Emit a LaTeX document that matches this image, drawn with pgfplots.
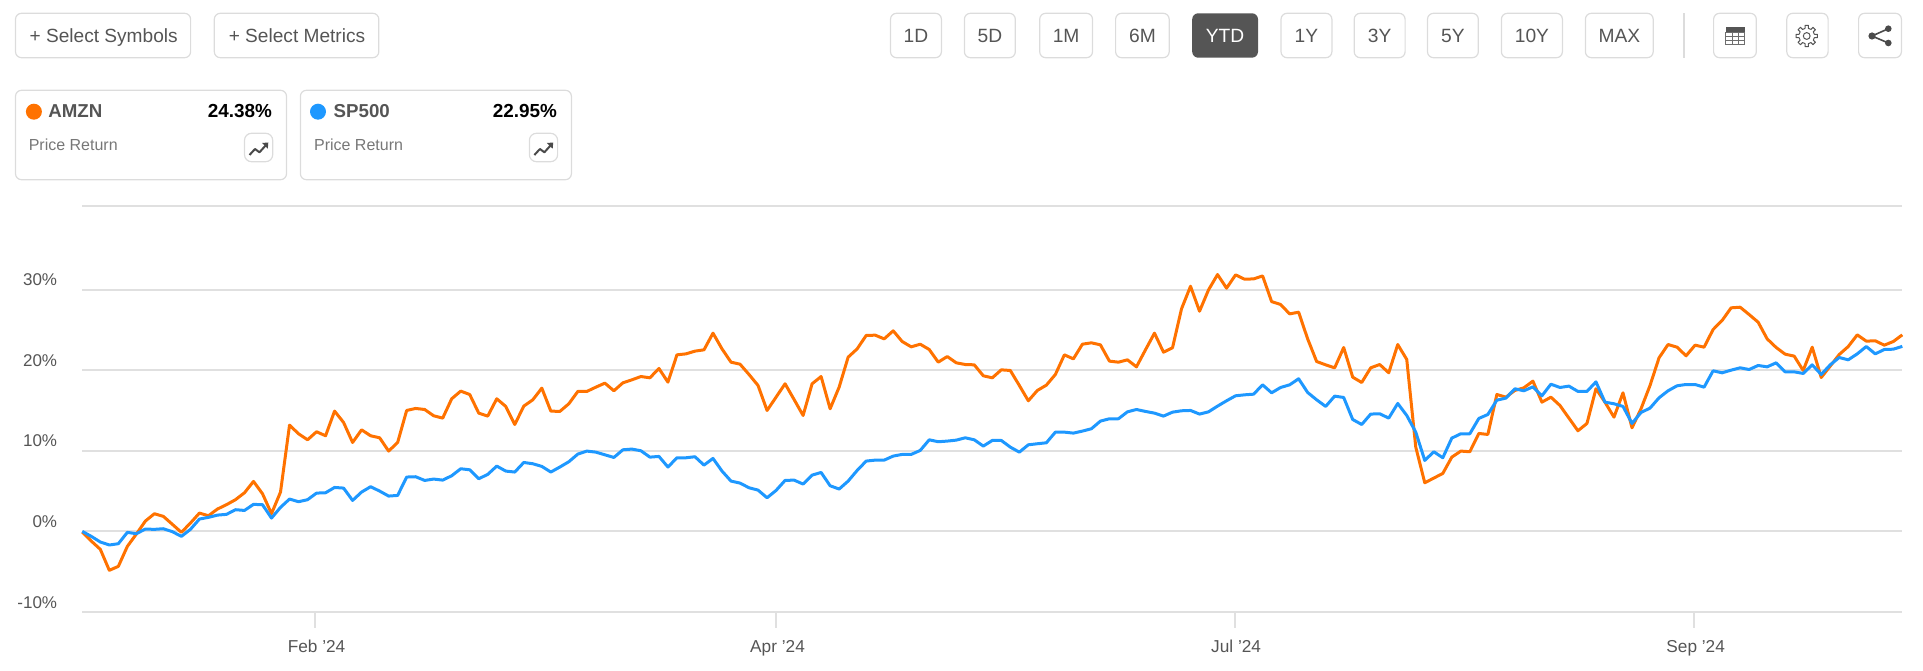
\documentclass[border=0pt]{standalone}
\usepackage{pgfplots}
\pgfplotsset{compat=1.18}
\usepackage{fontspec}
\setmainfont{Liberation Sans}
\definecolor{amzn}{HTML}{FF7200}
\definecolor{spx}{HTML}{1E98FF}
\definecolor{gridc}{HTML}{E0E0E0}
\definecolor{boxc}{HTML}{DCDCDC}
\definecolor{txt}{HTML}{555555}
\definecolor{dark}{HTML}{4A4A4A}
\newcommand{\fs}[1]{\fontsize{#1}{#1}\selectfont}
\tikzset{btn/.style={draw=boxc,line width=1.2pt,rounded corners=6pt}}
% button: x0, x1, label
\newcommand{\btn}[3]{
  \draw[btn] (#1,13.3) rectangle (#2,57.7);
  \node[text=txt,inner sep=0,anchor=base] at ({(#1+#2)/2},42.5) {\fs{19.2}#3};
}
% trend icon box
\newcommand{\trend}[1]{
  \draw[btn,rounded corners=7pt] (#1,133.3) rectangle ({#1+28.2},161.7);
  \draw[dark,line width=2pt,line join=round] ({#1+5},155) -- ({#1+10.5},149) -- ({#1+15},152.3) -- ({#1+22},144.5);
  \fill[dark] ({#1+23.8},142.5) -- ({#1+17.5},143) -- ({#1+23.3},148.7) -- cycle;
}
\begin{document}
\begin{tikzpicture}
\useasboundingbox (0,0) rectangle (1923pt,670pt);
\begin{axis}[
  at={(82.3pt,58pt)}, anchor=south west,
  scale only axis,
  width=1820pt, height=406.3pt,
  xmin=0, xmax=202, ymin=-10, ymax=40.4,
  clip=false,
  axis line style={draw=none},
  ymajorgrids,
  grid style={gridc,line width=2pt},
  ytick={-10,0,10,20,30,40.4},
  yticklabels={-10\%,0\%,10\%,20\%,30\%,},
  xtick={25.83,77.0,127.9,178.9},
  xticklabels={Feb '24,Apr '24,Jul '24,Sep '24},
  tick align=inside,
  major tick length=15.5pt,
  xtick pos=lower, ytick pos=left,
  y tick style={draw=none},
  x tick style={gridc,line width=2pt,yshift=-15.5pt},
  xticklabel style={anchor=base,inner sep=0,text=txt,font=\fs{17.25},yshift=-40pt,xshift=1.5pt},
  yticklabel style={anchor=base east,inner sep=0,text=txt,font=\fs{17},yshift=4pt,xshift=-25pt},
]
\addplot[amzn,line width=3pt,line join=round] coordinates {
(0,-0.08)(1,-1.20)(2,-2.23)(3,-4.83)(4,-4.34)(5,-1.86)(6,-0.33)(7,1.28)(8,2.19)(9,1.86)
(10,0.87)(11,-0.12)(12,1.03)(13,2.27)(14,1.94)(15,2.77)(16,3.31)(17,3.93)(18,4.79)(19,6.20)
(20,4.67)(21,2.19)(22,4.88)(23,13.18)(24,12.11)(25,11.36)(26,12.36)(27,11.86)(28,14.92)(29,13.51)
(30,11.03)(31,12.60)(32,11.86)(33,11.61)(34,9.96)(35,11.03)(36,15.00)(37,15.25)(38,15.12)(39,14.34)
(40,14.05)(41,16.45)(42,17.40)(43,16.98)(44,14.67)(45,14.30)(46,16.45)(47,15.50)(48,13.26)(49,15.54)
(50,16.32)(51,17.77)(52,14.92)(53,14.88)(54,15.83)(55,17.36)(56,17.36)(57,17.89)(58,18.39)(59,17.44)
(60,18.43)(61,18.80)(62,19.21)(63,19.05)(64,20.21)(65,18.51)(66,21.90)(67,22.02)(68,22.36)(69,22.52)
(70,24.59)(71,22.64)(72,20.99)(73,20.74)(74,19.46)(75,18.10)(76,15.00)(77,16.65)(78,18.31)(79,16.36)
(80,14.38)(81,18.31)(82,19.21)(83,15.21)(84,17.89)(85,21.61)(86,22.64)(87,24.30)(88,24.34)(89,23.88)
(90,24.88)(91,23.55)(92,22.89)(93,23.22)(94,22.56)(95,20.99)(96,21.69)(97,20.91)(98,20.70)(99,20.66)
(100,19.30)(101,19.05)(102,20.04)(103,19.96)(104,18.10)(105,16.20)(106,17.48)(107,18.14)(108,19.46)(109,21.90)
(110,21.40)(111,23.22)(112,23.39)(113,23.14)(114,21.12)(115,20.99)(116,21.28)(117,20.41)(118,22.52)(119,24.59)
(120,22.23)(121,22.77)(122,27.60)(123,30.41)(124,27.31)(125,29.96)(126,31.86)(127,30.17)(128,31.82)(129,31.28)
(130,31.32)(131,31.69)(132,28.51)(133,28.14)(134,26.98)(135,27.19)(136,23.88)(137,21.07)(138,20.66)(139,20.29)
(140,22.81)(141,19.13)(142,18.47)(143,20.29)(144,20.70)(145,19.67)(146,23.18)(147,21.32)(148,10.45)(149,6.03)
(150,6.61)(151,7.19)(152,9.21)(153,9.96)(154,9.88)(155,12.15)(156,12.02)(157,16.98)(158,16.65)(159,17.48)
(160,17.81)(161,18.64)(162,16.03)(163,16.65)(164,15.62)(165,14.05)(166,12.48)(167,13.39)(168,17.69)(169,16.03)
(170,14.17)(171,17.19)(172,12.85)(173,15.21)(174,18.10)(175,21.53)(176,23.18)(177,22.85)(178,21.78)(179,23.10)
(180,22.85)(181,25.04)(182,26.16)(183,27.73)(184,27.81)(185,26.90)(186,25.95)(187,23.88)(188,22.81)(189,21.98)
(190,21.74)(191,19.96)(192,22.85)(193,19.09)(194,20.50)(195,21.94)(196,22.93)(197,24.38)(198,23.60)(199,23.64)
(200,23.10)(201,23.55)(202,24.38)
};
\addplot[spx,line width=3pt,line join=round] coordinates {
(0,0.00)(1,-0.62)(2,-1.32)(3,-1.69)(4,-1.53)(5,-0.12)(6,-0.29)(7,0.29)(8,0.25)(9,0.33)
(10,-0.04)(11,-0.62)(12,0.25)(13,1.53)(14,1.74)(15,2.02)(16,2.11)(17,2.69)(18,2.60)(19,3.35)
(20,3.31)(21,1.65)(22,2.98)(23,4.01)(24,3.68)(25,3.93)(26,4.75)(27,4.79)(28,5.45)(29,5.37)
(30,3.84)(31,4.88)(32,5.54)(33,5.00)(34,4.38)(35,4.46)(36,6.74)(37,6.78)(38,6.32)(39,6.49)
(40,6.36)(41,6.90)(42,7.77)(43,7.64)(44,6.53)(45,7.07)(46,8.10)(47,7.48)(48,7.36)(49,8.55)
(50,8.39)(51,8.06)(52,7.36)(53,7.98)(54,8.64)(55,9.59)(56,9.96)(57,9.83)(58,9.50)(59,9.17)
(60,10.12)(61,10.21)(62,10.00)(63,9.21)(64,9.30)(65,7.98)(66,9.13)(67,9.13)(68,9.26)(69,8.22)
(70,9.05)(71,7.48)(72,6.24)(73,5.99)(74,5.41)(75,5.12)(76,4.17)(77,5.08)(78,6.32)(79,6.36)
(80,5.87)(81,6.98)(82,7.31)(83,5.66)(84,5.25)(85,6.24)(86,7.56)(87,8.72)(88,8.84)(89,8.84)
(90,9.34)(91,9.55)(92,9.55)(93,10.04)(94,11.36)(95,11.12)(96,11.20)(97,11.32)(98,11.61)(99,11.36)
(100,10.58)(101,11.28)(102,11.28)(103,10.45)(104,9.83)(105,10.74)(106,10.87)(107,10.99)(108,12.31)(109,12.31)
(110,12.19)(111,12.44)(112,12.73)(113,13.68)(114,13.97)(115,13.97)(116,14.83)(117,15.12)(118,14.88)(119,14.67)
(120,14.30)(121,14.79)(122,14.96)(123,15.00)(124,14.55)(125,14.83)(126,15.54)(127,16.20)(128,16.82)(129,16.94)
(130,17.02)(131,18.18)(132,17.19)(133,17.85)(134,18.18)(135,18.93)(136,17.23)(137,16.32)(138,15.50)(139,16.78)
(140,16.61)(141,13.88)(142,13.26)(143,14.55)(144,14.59)(145,14.05)(146,15.87)(147,14.38)(148,12.31)(149,8.80)
(150,9.88)(151,9.13)(152,11.57)(153,12.11)(154,12.11)(155,14.01)(156,14.50)(157,16.28)(158,16.53)(159,17.69)
(160,17.44)(161,17.93)(162,16.82)(163,18.26)(164,17.85)(165,18.02)(166,17.36)(167,17.36)(168,18.55)(169,16.03)
(170,15.83)(171,15.50)(172,13.39)(173,14.75)(174,15.29)(175,16.57)(176,17.44)(177,18.06)(178,18.22)(179,18.22)
(180,17.89)(181,19.92)(182,19.67)(183,20.00)(184,20.29)(185,20.08)(186,20.58)(187,20.41)(188,20.91)(189,19.79)
(190,19.79)(191,19.59)(192,20.66)(193,19.46)(194,20.66)(195,21.57)(196,21.28)(197,22.02)(198,22.93)(199,22.02)
(200,22.56)(201,22.60)(202,22.95)
};
\end{axis}
% page chrome, in pixels from the top left
\begin{scope}[x=1pt,y=-1pt,yshift=670pt]
  \draw[btn] (15.5,13.3) rectangle (190.6,57.7);
  \node[text=txt,inner sep=0,anchor=base west] at (29.4,42.5) {\fs{19.1}+ Select Symbols};
  \draw[btn] (214.3,13.3) rectangle (378.8,57.7);
  \node[text=txt,inner sep=0,anchor=base west] at (228.6,42.5) {\fs{19.1}+ Select Metrics};
  \btn{890.5}{941.4}{1D}
  \btn{964.4}{1015.3}{5D}
  \btn{1039.7}{1092.5}{1M}
  \btn{1115.6}{1169.2}{6M}
  \fill[txt,rounded corners=6pt] (1192.2,13.3) rectangle (1258,57.7);
  \node[white,inner sep=0,anchor=base] at (1225.1,42.5) {\fs{19.2}YTD};
  \btn{1281}{1331.9}{1Y}
  \btn{1354.2}{1405.1}{3Y}
  \btn{1427.5}{1478.3}{5Y}
  \btn{1501.4}{1562.4}{10Y}
  \btn{1585.4}{1653.2}{MAX}
  \draw[boxc,line width=2pt] (1683.7,13.3) -- (1683.7,57.7);
  \draw[btn] (1713.6,13.3) rectangle (1756.3,57.7);
  \draw[btn] (1786.8,13.3) rectangle (1828.1,57.7);
  \draw[btn] (1858.6,13.3) rectangle (1901.4,57.7);
  % table icon
  \fill[txt] (1725.7,27) rectangle (1744.7,32.5);
  \draw[txt!85!white,line width=1pt] (1725.7,32.5) rectangle (1744.7,45)
    (1725.7,36.7) -- (1744.7,36.7) (1725.7,40.9) -- (1744.7,40.9)
    (1732,32.5) -- (1732,45) (1738.4,32.5) -- (1738.4,45);
  % gear icon
  \draw[txt,line width=1pt] (1806.7,36) circle (3.4pt);
  \foreach \a in {0,45,...,315}
    \draw[txt,line width=1pt,line join=round,shift={(1806.7,36)}]
      ({\a-22.5}:7.6pt) -- ({\a-12}:7.9pt) -- ({\a-9}:10.7pt) -- ({\a+9}:10.7pt) -- ({\a+12}:7.9pt) -- ({\a+22.5}:7.6pt);
  % share icon
  \draw[dark,line width=1.6pt] (1888.3,28.7) -- (1872,36) -- (1888.3,43);
  \fill[dark] (1888.3,28.7) circle (3.3pt) (1872,36) circle (3.6pt) (1888.3,43) circle (3.3pt);
  % legend cards
  \draw[btn] (15.5,90.3) rectangle (286.5,179.7);
  \fill[amzn] (33.9,111.7) circle (8pt);
  \node[text=txt,inner sep=0,anchor=base west] at (48.2,118) {\fs{18.7}\bfseries AMZN};
  \node[text=black,inner sep=0,anchor=base east] at (272.2,118) {\fs{18.9}\bfseries 24.38\%};
  \node[text=txt!80!white,inner sep=0,anchor=base west] at (28.6,151) {\fs{16}Price Return};
  \trend{244.5}
  \draw[btn] (300.4,90.3) rectangle (571.4,179.7);
  \fill[spx] (318,111.7) circle (8pt);
  \node[text=txt,inner sep=0,anchor=base west] at (333.5,118) {\fs{18.7}\bfseries SP500};
  \node[text=black,inner sep=0,anchor=base east] at (557.1,118) {\fs{18.9}\bfseries 22.95\%};
  \node[text=txt!80!white,inner sep=0,anchor=base west] at (313.9,151) {\fs{16}Price Return};
  \trend{529.4}
\end{scope}
\end{tikzpicture}
\end{document}
